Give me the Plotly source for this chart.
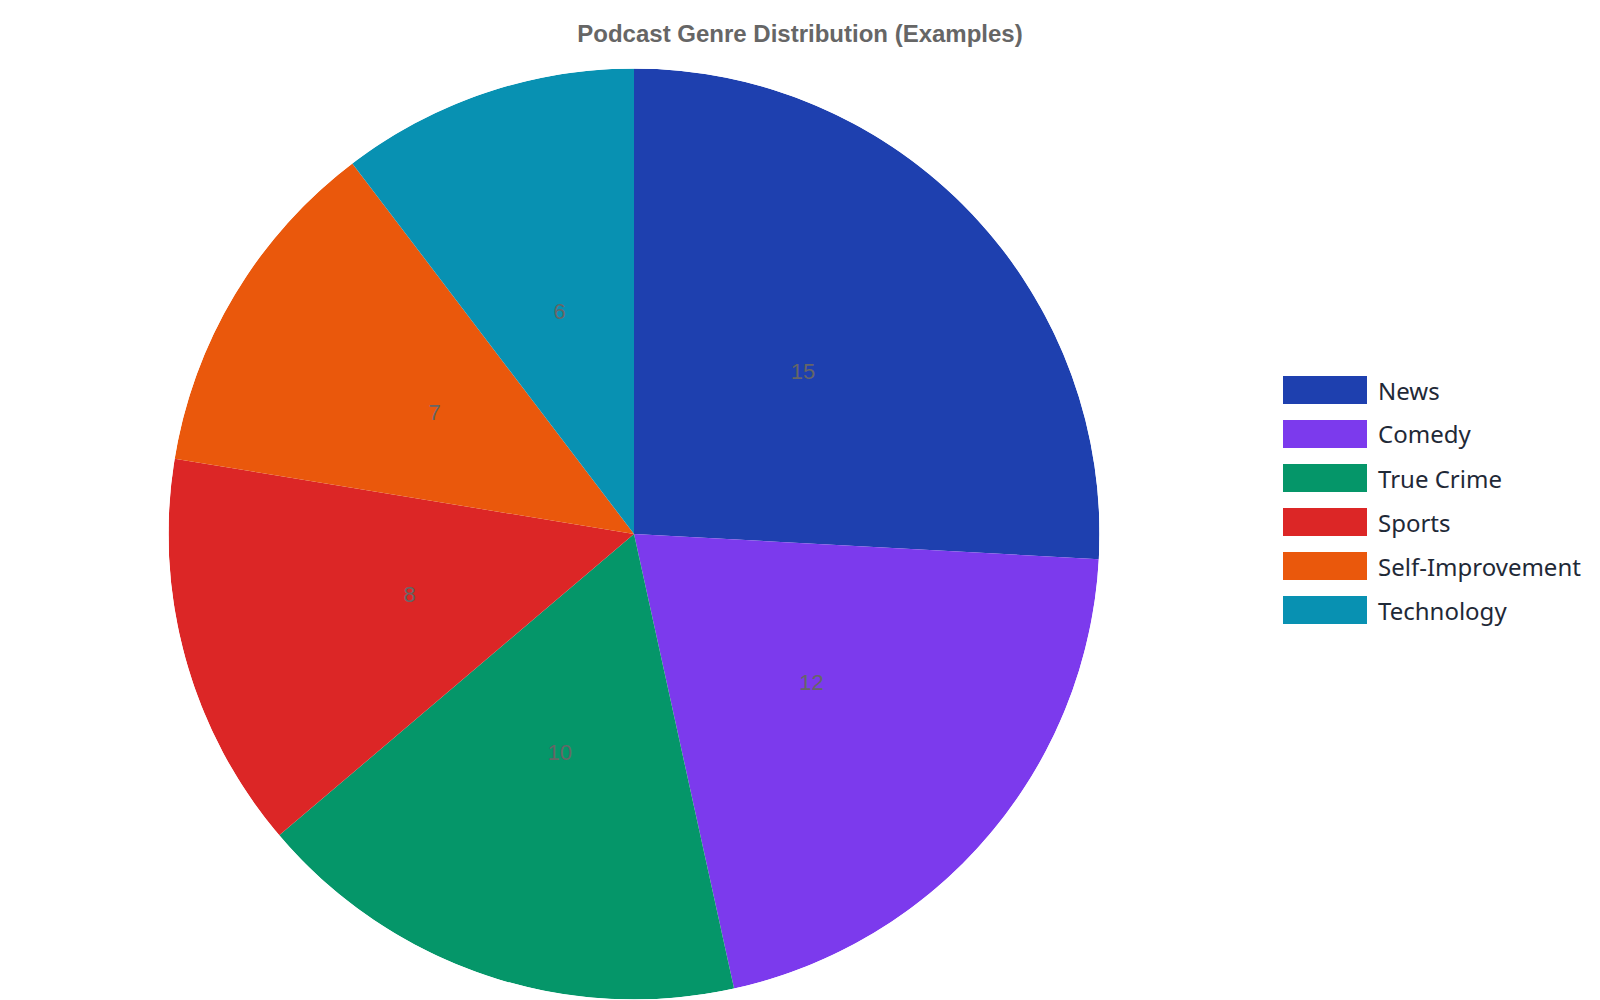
import numpy as np
import plotly.graph_objects as go

# podcast genres and example counts
genres = ["News", "Comedy", "True Crime", "Sports", "Self-Improvement", "Technology"]
counts = [15, 12, 10, 8, 7, 6]
colors = ["#1e40af", "#7c3aed", "#059669", "#dc2626", "#ea580c", "#0891b2"]

W, H = 1600, 1000
pie_dom = dict(x=[159.5 / W, 1092.5 / W], y=[0.0085, 0.9395])

# slices as polar bars: angular width and middle angle from the counts
vals = np.array(counts, dtype=float)
span_deg = 360 * vals / vals.sum()
mid_deg = np.cumsum(span_deg) - span_deg / 2

fig = go.Figure()
fig.add_trace(go.Barpolar(
    r=[1] * len(counts),
    theta=mid_deg,
    width=span_deg,
    marker=dict(color=colors, line=dict(width=0)),
    customdata=genres,
    text=[str(c) for c in counts],
    hovertemplate="%{customdata}: %{text}<extra></extra>",
    showlegend=False,
))

# value labels half way out along each slice
fig.add_trace(go.Scatterpolar(
    r=[0.5] * len(counts),
    theta=mid_deg,
    mode="text",
    text=[str(c) for c in counts],
    textfont=dict(family="Liberation Sans, Arial", size=22, color="#666666"),
    hoverinfo="skip",
    showlegend=False,
))

# legend drawn by hand so the swatches can be wide boxes
shapes = []
annotations = []
for i, (name, col) in enumerate(zip(genres, colors)):
    top = 368 + i * 44
    shapes.append(dict(
        type="rect", xref="paper", yref="paper",
        x0=1275 / W, x1=1359 / W,
        y0=1 - (top + 28) / H, y1=1 - top / H,
        fillcolor=col, line=dict(width=0),
    ))
    annotations.append(dict(
        text=name, xref="paper", yref="paper",
        x=1368 / W, y=1 - (top + 14) / H,
        xanchor="left", yanchor="middle", showarrow=False,
        font=dict(family="Noto Sans", size=24, color="#1f2937"),
    ))

fig.update_layout(
    width=W,
    height=H,
    margin=dict(l=0, r=0, t=0, b=0),
    paper_bgcolor="white",
    title=dict(
        text="<b>Podcast Genre Distribution (Examples)</b>",
        x=792 / W, xanchor="center",
        y=1 - 26 / H, yanchor="middle",
        font=dict(family="Liberation Sans, Arial", size=24, color="#666666"),
    ),
    polar=dict(
        domain=pie_dom,
        bgcolor="rgba(0,0,0,0)",
        bargap=0,
        radialaxis=dict(visible=False, range=[0, 1]),
        angularaxis=dict(visible=False, direction="clockwise", rotation=90),
    ),
    shapes=shapes,
    annotations=annotations,
)

fig.write_html("out.html")
